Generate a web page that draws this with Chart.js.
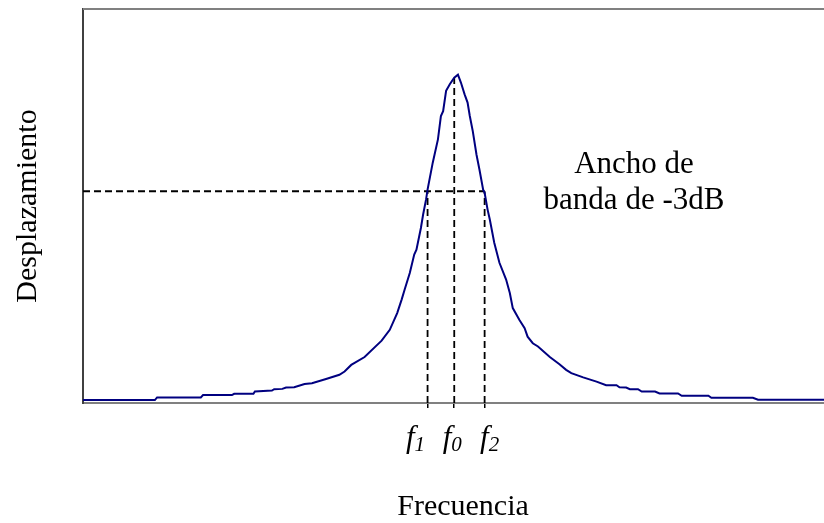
<!DOCTYPE html>
<html>
<head>
<meta charset="utf-8">
<script src="https://cdn.jsdelivr.net/npm/chart.js@4.4.1/dist/chart.umd.min.js"></script>
<style>
  html, body { margin: 0; padding: 0; background: #ffffff; }
  canvas { display: block; }
</style>
</head>
<body>
<canvas id="resonance" width="824" height="523"></canvas>
<script>
// Frequency response of a resonant system (arbitrary units)
const freq = [0, 9.7, 10.0, 15.9, 16.2, 20.1, 20.4, 23.0, 23.2, 25.5, 25.8, 26.9, 27.4, 28.5, 29.9, 30.9,
  32.8, 34.6, 35.3, 36.2, 38.0, 40.3, 41.4, 42.4, 43.0, 43.4, 44.1, 44.7, 45.0, 45.6, 45.9, 46.3, 46.5,
  47.2, 47.9, 48.3, 48.6, 49.0, 49.5, 50.1, 50.6, 51.0, 51.5, 51.9, 52.2, 52.6, 53.1, 53.5, 54.0, 54.2,
  54.6, 54.9, 55.5, 56.2, 57.1, 57.6, 58.0, 58.9, 59.6, 60.0, 60.7, 61.4, 63.0, 64.3, 65.2, 65.9, 67.5,
  69.3, 70.6, 72.0, 72.4, 73.3, 73.8, 74.9, 75.4, 77.2, 77.8, 80.3, 80.8, 84.4, 84.8, 90.4, 91.1, 100];
const displacement = [0.009, 0.009, 0.017, 0.017, 0.024, 0.024, 0.028, 0.028, 0.035, 0.038, 0.042, 0.043,
  0.047, 0.048, 0.058, 0.060, 0.073, 0.086, 0.096, 0.116, 0.140, 0.190, 0.223, 0.274, 0.315, 0.345, 0.396,
  0.452, 0.467, 0.533, 0.574, 0.620, 0.650, 0.732, 0.803, 0.874, 0.889, 0.951, 0.971, 0.991, 1.000, 0.976,
  0.940, 0.915, 0.874, 0.828, 0.757, 0.711, 0.650, 0.640, 0.589, 0.559, 0.488, 0.427, 0.376, 0.335, 0.289,
  0.253, 0.228, 0.202, 0.182, 0.172, 0.140, 0.118, 0.101, 0.091, 0.078, 0.065, 0.054, 0.054, 0.048, 0.047,
  0.042, 0.042, 0.035, 0.035, 0.029, 0.029, 0.022, 0.022, 0.016, 0.016, 0.010, 0.010];

// Characteristic frequencies and the -3 dB level
const markerFreqs = [46.5, 50.1, 54.2];      // f1, f0, f2
const markerSubs = ['1', '0', '2'];
const markerLabelShift = [-12, -2, 5];
const bandLevel = 0.645;
const peakLevel = 0.99;
const bandNote = ['Ancho de', 'banda de -3dB'];
const xTitle = 'Frecuencia';
const yTitle = 'Desplazamiento';

const serif = '"Liberation Serif", "Times New Roman", serif';
const dash = [7, 4];

const curve = freq.map((f, i) => ({ x: f, y: displacement[i] }));
const bandLine = [{ x: 0, y: bandLevel }, { x: markerFreqs[2], y: bandLevel }];
const verticals = [
  [{ x: markerFreqs[0], y: 0 }, { x: markerFreqs[0], y: bandLevel }],
  [{ x: markerFreqs[1], y: 0 }, { x: markerFreqs[1], y: peakLevel }],
  [{ x: markerFreqs[2], y: 0 }, { x: markerFreqs[2], y: bandLevel }]
];

const dashedSet = (data) => ({
  data, borderColor: '#000000', borderWidth: 1.8, borderDash: dash,
  pointRadius: 0, fill: false, tension: 0, order: 2
});

const labelsPlugin = {
  id: 'resonanceLabels',
  afterDraw(chart) {
    const { ctx, chartArea, scales } = chart;
    const xs = scales.x;
    ctx.save();
    // top frame line
    ctx.strokeStyle = '#808080';
    ctx.lineWidth = 2;
    ctx.beginPath();
    ctx.moveTo(chartArea.left, chartArea.top);
    ctx.lineTo(chartArea.right, chartArea.top);
    ctx.stroke();

    // f1, f0, f2 labels
    ctx.fillStyle = '#000000';
    ctx.textBaseline = 'alphabetic';
    markerFreqs.forEach((f, i) => {
      const cx = xs.getPixelForValue(f) + markerLabelShift[i];
      ctx.font = 'italic 31px ' + serif;
      const wf = ctx.measureText('f').width;
      ctx.font = 'italic 21px ' + serif;
      const ws = ctx.measureText(markerSubs[i]).width;
      const left = cx - (wf + ws) / 2;
      ctx.font = 'italic 31px ' + serif;
      ctx.textAlign = 'left';
      ctx.fillText('f', left, 447);
      ctx.font = 'italic 21px ' + serif;
      ctx.fillText(markerSubs[i], left + wf, 451);
    });

    // axis title below the frequency axis
    ctx.font = '30px ' + serif;
    ctx.textAlign = 'center';
    ctx.textBaseline = 'middle';
    ctx.fillText(xTitle, 463, 507);

    // bandwidth note
    ctx.font = '31px ' + serif;
    ctx.fillText(bandNote[0], 634, 165);
    ctx.fillText(bandNote[1], 634, 201);
    ctx.restore();
  }
};

new Chart(document.getElementById('resonance'), {
  type: 'line',
  data: {
    datasets: [
      { data: curve, borderColor: '#000080', borderWidth: 2, pointRadius: 0, fill: false, tension: 0, order: 1 },
      dashedSet(bandLine),
      dashedSet(verticals[0]),
      dashedSet(verticals[1]),
      dashedSet(verticals[2])
    ]
  },
  options: {
    responsive: false,
    animation: false,
    devicePixelRatio: 1,
    layout: { padding: { top: 9, right: 0, left: 0, bottom: 0 } },
    plugins: { legend: { display: false }, tooltip: { enabled: false } },
    scales: {
      x: {
        type: 'linear', min: 0, max: 100,
        afterBuildTicks(scale) { scale.ticks = markerFreqs.map(v => ({ value: v })); },
        afterFit(scale) { scale.height = 120; },
        ticks: { display: false },
        grid: { display: true, drawOnChartArea: false, drawTicks: true, tickLength: 5, color: '#000000', lineWidth: 1.5 },
        border: { display: true, color: '#808080', width: 2 },
        title: { display: false }
      },
      y: {
        type: 'linear', min: 0, max: 1.2,
        afterFit(scale) { scale.width = 83; },
        ticks: { display: false },
        grid: { display: false },
        border: { display: true, color: '#404040', width: 2 },
        title: { display: true, text: yTitle, color: '#000000',
                 font: { family: serif, size: 30, lineHeight: 1 }, padding: { top: 13, bottom: 0 } }
      }
    }
  },
  plugins: [labelsPlugin]
});
</script>
</body>
</html>
